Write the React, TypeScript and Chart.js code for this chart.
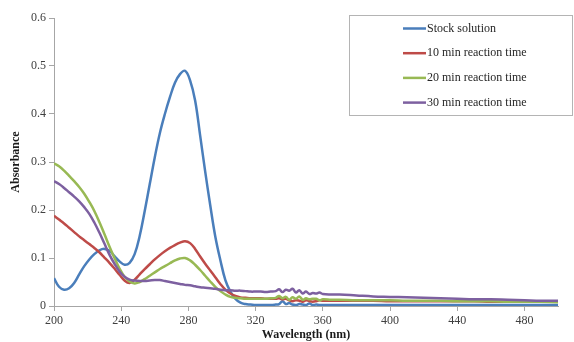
import React, { useEffect, useRef } from "react";
import { Chart, registerables } from "chart.js";

Chart.register(...registerables);

const wavelengths = [
  200, 203, 206, 209, 212, 215, 218, 221, 224, 227, 230, 233, 236, 239, 242, 245, 248, 251, 254, 257,
  260, 263, 266, 269, 272, 275, 278, 281, 284, 287, 290, 293, 296, 299, 302, 305, 308, 311, 314, 317,
  320, 323, 326, 329, 332, 334, 336, 338, 340, 342, 344, 346, 348, 350, 352, 354, 356, 358, 360, 365,
  370, 380, 390, 400, 410, 420, 430, 440, 450, 460, 470, 480, 490, 500,
];

const stockSolution = [
  0.058, 0.04, 0.034, 0.037, 0.048, 0.066, 0.083, 0.097, 0.108, 0.116, 0.119, 0.115, 0.104, 0.093, 0.086, 0.09, 0.108, 0.146, 0.198, 0.254,
  0.31, 0.36, 0.4, 0.435, 0.465, 0.483, 0.49, 0.47, 0.428, 0.355, 0.28, 0.21, 0.145, 0.096, 0.054, 0.03, 0.015, 0.007, 0.004, 0.003,
  0.002, 0.002, 0.002, 0.002, 0.003, 0.004, 0.01, 0.004, 0.006, 0.003, 0.002, 0.004, 0.003, 0.002, 0.005, 0.002, 0.003, 0.002, 0.002, 0.002,
  0.002, 0.002, 0.002, 0.002, 0.002, 0.002, 0.002, 0.002, 0.002, 0.002, 0.002, 0.002, 0.002, 0.002,
];

const reaction10 = [
  0.188, 0.18, 0.172, 0.163, 0.154, 0.145, 0.137, 0.129, 0.121, 0.112, 0.101, 0.09, 0.078, 0.065, 0.053, 0.048, 0.055, 0.066, 0.077, 0.087,
  0.097, 0.106, 0.114, 0.121, 0.127, 0.132, 0.135, 0.131, 0.119, 0.103, 0.088, 0.074, 0.06, 0.046, 0.034, 0.026, 0.021, 0.018, 0.017, 0.016,
  0.016, 0.016, 0.015, 0.015, 0.015, 0.016, 0.014, 0.015, 0.012, 0.01, 0.012, 0.011, 0.009, 0.012, 0.01, 0.009, 0.01, 0.012, 0.011, 0.011,
  0.011, 0.011, 0.011, 0.01, 0.01, 0.01, 0.01, 0.01, 0.01, 0.009, 0.009, 0.009, 0.009, 0.009,
];

const reaction20 = [
  0.297, 0.291, 0.282, 0.271, 0.26, 0.248, 0.234, 0.217, 0.198, 0.175, 0.15, 0.124, 0.1, 0.078, 0.061, 0.051, 0.047, 0.05, 0.056, 0.063,
  0.07, 0.077, 0.083, 0.089, 0.095, 0.099, 0.1, 0.095, 0.086, 0.075, 0.063, 0.051, 0.04, 0.031, 0.024, 0.019, 0.017, 0.016, 0.015, 0.015,
  0.015, 0.015, 0.015, 0.016, 0.017, 0.021, 0.016, 0.019, 0.013, 0.018, 0.015, 0.02, 0.013, 0.016, 0.014, 0.015, 0.015, 0.012, 0.014, 0.013,
  0.013, 0.012, 0.012, 0.012, 0.011, 0.011, 0.011, 0.01, 0.01, 0.01, 0.009, 0.009, 0.009, 0.008,
];

const reaction30 = [
  0.26, 0.254, 0.246, 0.237, 0.228, 0.218, 0.206, 0.192, 0.174, 0.153, 0.13, 0.107, 0.088, 0.072, 0.061, 0.055, 0.053, 0.052, 0.052, 0.053,
  0.054, 0.054, 0.052, 0.05, 0.048, 0.046, 0.044, 0.043, 0.041, 0.039, 0.038, 0.037, 0.036, 0.034, 0.033, 0.033, 0.032, 0.032, 0.031, 0.03,
  0.03, 0.03, 0.029, 0.03, 0.031, 0.035, 0.029, 0.034, 0.032, 0.036, 0.028, 0.033, 0.026, 0.03, 0.025, 0.027, 0.026, 0.028, 0.025, 0.024,
  0.024, 0.022, 0.02, 0.019, 0.018, 0.017, 0.016, 0.015, 0.014, 0.014, 0.013, 0.012, 0.011, 0.011,
];

const seriesLabels = ["Stock solution", "10 min reaction time", "20 min reaction time", "30 min reaction time"];
const seriesColors = ["#4A7EBB", "#BE4B48", "#98B954", "#7D60A0"];
const xTickValues = [200, 240, 280, 320, 360, 400, 440, 480];
const yTickValues = [0, 0.1, 0.2, 0.3, 0.4, 0.5, 0.6];
const xTitle = "Wavelength (nm)";
const yTitle = "Absorbance";

const FONT = "'Liberation Serif', 'Times New Roman', serif";

const boxLegend = {
  id: "boxLegend",
  afterDraw(chart: any) {
    const ctx = chart.ctx as CanvasRenderingContext2D;
    const left = 349.5;
    const top = 15.5;
    const w = 223;
    const h = 100;
    ctx.save();
    ctx.fillStyle = "#ffffff";
    ctx.fillRect(left, top, w, h);
    ctx.strokeStyle = "#b4b4b4";
    ctx.lineWidth = 1;
    ctx.strokeRect(left, top, w, h);
    ctx.font = `12px ${FONT}`;
    ctx.textBaseline = "middle";
    ctx.textAlign = "left";
    chart.data.datasets.forEach((ds: any, i: number) => {
      const y = 28.5 + i * 24.7;
      ctx.strokeStyle = ds.borderColor;
      ctx.lineWidth = 2.5;
      ctx.beginPath();
      ctx.moveTo(403, y);
      ctx.lineTo(426, y);
      ctx.stroke();
      ctx.fillStyle = "#262626";
      ctx.fillText(ds.label, 427, y);
    });
    ctx.restore();
  },
};

export default function App() {
  const canvasRef = useRef<HTMLCanvasElement | null>(null);

  useEffect(() => {
    if (!canvasRef.current) return;
    const seriesValues = [stockSolution, reaction10, reaction20, reaction30];
    const datasets = seriesValues.map((vals, i) => ({
      label: seriesLabels[i],
      data: wavelengths.map((x, j) => ({ x, y: vals[j] })),
      borderColor: seriesColors[i],
      backgroundColor: seriesColors[i],
      borderWidth: 2.5,
      pointRadius: 0,
      fill: false,
      tension: 0.4,
      order: 4 - i,
    }));

    const chart = new Chart(canvasRef.current, {
      type: "line",
      data: { datasets },
      plugins: [boxLegend],
      options: {
        animation: false,
        responsive: false,
        layout: { padding: { top: 18, right: 16, left: 0, bottom: 0 } },
        plugins: { legend: { display: false }, tooltip: { enabled: false } },
        scales: {
          x: {
            type: "linear",
            min: 200,
            max: 500,
            afterBuildTicks: (axis: any) => {
              axis.ticks = xTickValues.map((v) => ({ value: v }));
            },
            afterFit: (axis: any) => {
              axis.height = 36;
            },
            grid: { drawOnChartArea: false, drawTicks: true, tickLength: 5, color: "#a6a6a6" },
            border: { color: "#a6a6a6", width: 1 },
            ticks: {
              padding: 3,
              color: "#404040",
              font: { family: FONT, size: 12 },
              maxRotation: 0,
              autoSkip: false,
            },
            title: {
              display: true,
              text: xTitle,
              color: "#1a1a1a",
              font: { family: FONT, size: 12, weight: "bold" },
              padding: { top: 0, bottom: 0 },
            },
          },
          y: {
            type: "linear",
            min: 0,
            max: 0.6,
            afterBuildTicks: (axis: any) => {
              axis.ticks = yTickValues.map((v) => ({ value: v }));
            },
            afterFit: (axis: any) => {
              axis.width = 54;
            },
            grid: { drawOnChartArea: false, drawTicks: true, tickLength: 5, color: "#a6a6a6" },
            border: { color: "#a6a6a6", width: 1 },
            ticks: {
              padding: 3,
              color: "#404040",
              font: { family: FONT, size: 12 },
              callback: (v: any) => String(v),
            },
            title: {
              display: true,
              text: yTitle,
              color: "#1a1a1a",
              font: { family: FONT, size: 12, weight: "bold" },
              padding: { top: 9, bottom: 0 },
            },
          },
        },
      },
    });
    return () => chart.destroy();
  }, []);

  return (
    <div style={{ position: "absolute", left: 0, top: 0, width: 574, height: 342, background: "#fff" }}>
      <canvas ref={canvasRef} width={574} height={342} style={{ display: "block" }} />
    </div>
  );
}
